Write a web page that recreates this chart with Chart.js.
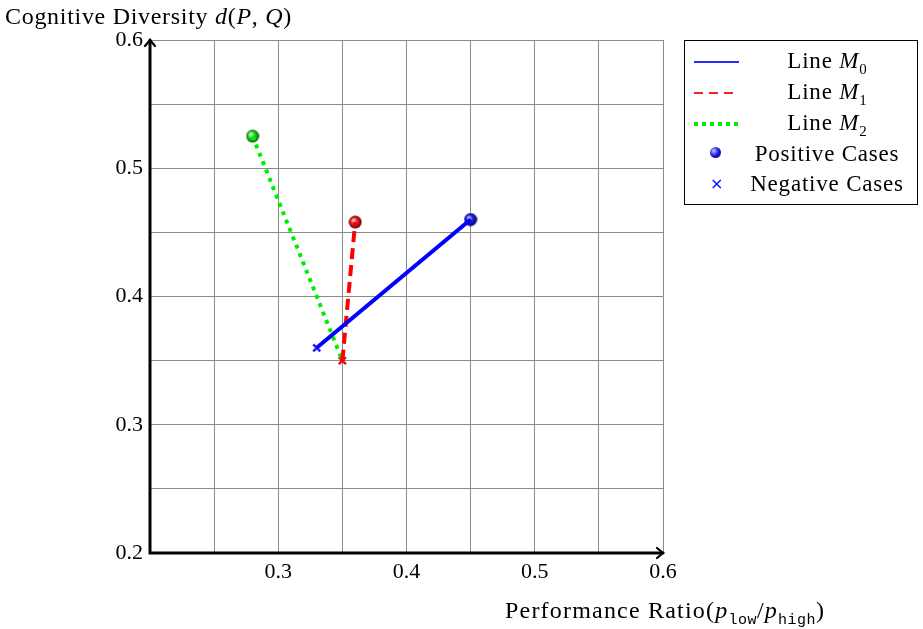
<!DOCTYPE html>
<html>
<head>
<meta charset="utf-8">
<script src="https://cdn.jsdelivr.net/npm/chart.js@4"></script>
<style>
  body { margin: 0; background: #fff; }
  #wrap { position: relative; width: 923px; height: 629px; font-family: "Liberation Serif", serif; color: #000; }
  #wrap canvas { position: absolute; left: 0; top: 0; }
  .ttl { position: absolute; font-size: 24px; letter-spacing: 0.7px; white-space: nowrap; line-height: 28px; }
  .tt { font-family: "Liberation Mono", monospace; font-size: 15px; letter-spacing: 0.5px; }
  #legend { position: absolute; left: 684px; top: 40px; width: 234px; height: 165px; border: 1px solid #000; box-sizing: border-box; }
  .row { position: absolute; left: 0; width: 100%; height: 30px; font-size: 23px; letter-spacing: 0.8px; line-height: 28px; }
  .sw { position: absolute; left: 9px; width: 45px; top: 14px; height: 2px; }
  .lbl { position: absolute; left: 58px; right: 6px; text-align: center; top: 0px; white-space: nowrap; }
  .ball { position: absolute; left: 25px; top: 7px; width: 11px; height: 11px; border-radius: 50%;
          background: radial-gradient(circle at 35% 35%, #c8c8ff 0%, #2020e0 45%, #00005a 100%); }
  .crs { position: absolute; left: 25px; top: 0px; color: #0000ff; font-size: 16px; font-family: "DejaVu Sans", sans-serif; }
  .sub { font-size: 15px; letter-spacing: 0; }
</style>
</head>
<body>
<div id="wrap">
  <canvas id="chart" width="923" height="629"></canvas>
  <div class="ttl" style="left:5px; top:2px;">Cognitive Diversity <i>d</i>(<i>P</i>, <i>Q</i>)</div>
  <div class="ttl" style="left:505px; top:596px; letter-spacing:1.2px;">Performance Ratio(<i>p</i><sub class="tt">low</sub>/<i>p</i><sub class="tt">high</sub>)</div>
  <div id="legend">
    <div class="row" style="top:6px;"><div class="sw" style="background:#2a2aff;"></div><div class="lbl">Line <i>M</i><sub class="sub">0</sub></div></div>
    <div class="row" style="top:37px;"><div class="sw" style="background:repeating-linear-gradient(90deg, #ff2020 0 9px, transparent 9px 15px);"></div><div class="lbl">Line <i>M</i><sub class="sub">1</sub></div></div>
    <div class="row" style="top:68px;"><div class="sw" style="height:4px; top:13px; background:repeating-linear-gradient(90deg, #00ee00 0 4px, transparent 4px 8px);"></div><div class="lbl">Line <i>M</i><sub class="sub">2</sub></div></div>
    <div class="row" style="top:99px;"><div class="ball"></div><div class="lbl">Positive Cases</div></div>
    <div class="row" style="top:129px;"><div class="crs">×</div><div class="lbl">Negative Cases</div></div>
  </div>
</div>
<script>
// line M0 (blue), M1 (red), M2 (green): start = negative case, end = positive case
const m0X = [0.33, 0.45];
const m0Y = [0.36, 0.46];
const m1X = [0.35, 0.36];
const m1Y = [0.35, 0.458];
const m2X = [0.28, 0.35];
const m2Y = [0.525, 0.35];

const posX = [0.45, 0.36, 0.28];
const posY = [0.46, 0.458, 0.525];
const negX = [0.33, 0.35];
const negY = [0.36, 0.35];

const xTicks = [0.3, 0.4, 0.5, 0.6];
const yTicks = [0.2, 0.3, 0.4, 0.5, 0.6];
const gridSteps = [0.2, 0.25, 0.3, 0.35, 0.4, 0.45, 0.5, 0.55, 0.6];

function pts(xs, ys) {
    return xs.map((x, i) => ({ x: x, y: ys[i] }));
}

// shaded ball marker
function ball(light, mid, dark) {
    const c = document.createElement('canvas');
    c.width = 14; c.height = 14;
    const g = c.getContext('2d');
    const grad = g.createRadialGradient(5, 5, 0.5, 7, 7, 7);
    grad.addColorStop(0, light);
    grad.addColorStop(0.45, mid);
    grad.addColorStop(1, dark);
    g.fillStyle = grad;
    g.beginPath();
    g.arc(7, 7, 6.5, 0, Math.PI * 2);
    g.fill();
    return c;
}
const balls = [
    ball('#c8c8ff', '#2020e0', '#00005a'),
    ball('#ffc8c8', '#e02020', '#5a0000'),
    ball('#c8ffc8', '#20d020', '#005a00')
];

// thick axes with open arrow heads
const axesPlugin = {
    id: 'axes',
    afterDatasetsDraw(chart) {
        const a = chart.chartArea;
        const c = chart.ctx;
        c.save();
        c.strokeStyle = '#000';
        c.lineWidth = 3;
        c.lineCap = 'round';
        c.beginPath();
        c.moveTo(a.left, a.top);
        c.lineTo(a.left, a.bottom);
        c.lineTo(a.right, a.bottom);
        c.stroke();
        c.lineWidth = 2.2;
        c.beginPath();
        c.moveTo(a.left - 5, a.top + 6); c.lineTo(a.left, a.top); c.lineTo(a.left + 5, a.top + 6);
        c.moveTo(a.right - 6, a.bottom - 5); c.lineTo(a.right, a.bottom); c.lineTo(a.right - 6, a.bottom + 5);
        c.stroke();
        c.restore();
    }
};

const near = (v, list) => list.some(t => Math.abs(v - t) < 1e-6);

new Chart(document.getElementById('chart'), {
    type: 'scatter',
    data: {
        datasets: [
            { label: 'Line M0', data: pts(m0X, m0Y), showLine: true, borderColor: '#0000ff', borderWidth: 4, pointRadius: 0 },
            { label: 'Line M1', data: pts(m1X, m1Y), showLine: true, borderColor: '#ff0000', borderWidth: 4, borderDash: [11, 6], pointRadius: 0 },
            { label: 'Line M2', data: pts(m2X, m2Y), showLine: true, borderColor: '#00ee00', borderWidth: 4, borderDash: [4, 5], pointRadius: 0 },
            { label: 'Negative Cases', data: pts(negX, negY), pointStyle: 'crossRot', pointRadius: 5, borderWidth: 2.5,
              borderColor: ['#2020ff', '#e01010'], backgroundColor: 'transparent' },
            { label: 'Positive Cases', data: pts(posX, posY), pointStyle: balls, pointRadius: 7 }
        ]
    },
    options: {
        responsive: false,
        animation: false,
        events: [],
        layout: { padding: { left: 0, top: 40, right: 260, bottom: 0 } },
        plugins: { legend: { display: false }, tooltip: { enabled: false } },
        scales: {
            x: {
                type: 'linear', min: 0.2, max: 0.6,
                afterFit: s => { s.height = 76; },
                afterBuildTicks: s => { s.ticks = gridSteps.map(v => ({ value: v })); },
                grid: { color: '#8a8a8a', lineWidth: 1, drawTicks: false },
                border: { display: false },
                ticks: {
                    padding: 6, color: '#000', maxRotation: 0, autoSkip: false,
                    font: { family: 'Liberation Serif', size: 22 },
                    callback: v => near(v, xTicks) ? v.toFixed(1) : ''
                }
            },
            y: {
                type: 'linear', min: 0.2, max: 0.6,
                afterFit: s => { s.width = 150; },
                afterBuildTicks: s => { s.ticks = gridSteps.map(v => ({ value: v })); },
                grid: { color: '#8a8a8a', lineWidth: 1, drawTicks: false },
                border: { display: false },
                ticks: {
                    padding: 7, color: '#000', autoSkip: false,
                    font: { family: 'Liberation Serif', size: 22 },
                    callback: v => near(v, yTicks) ? v.toFixed(1) : ''
                }
            }
        }
    },
    plugins: [axesPlugin]
});
</script>
</body>
</html>
